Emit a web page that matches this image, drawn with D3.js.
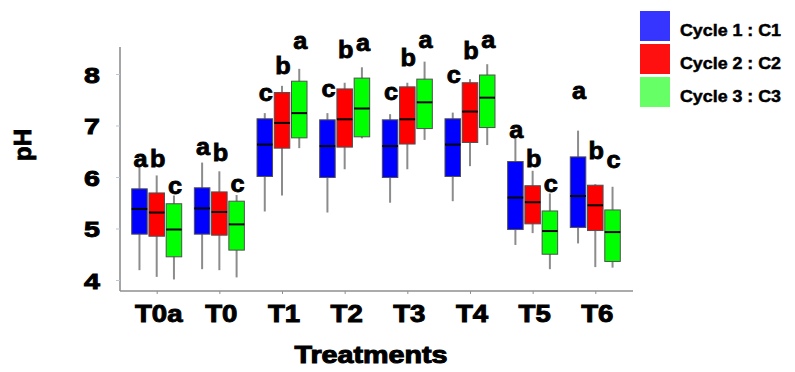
<!DOCTYPE html>
<html>
<head>
<meta charset="utf-8">
<script src="https://cdn.jsdelivr.net/npm/d3@7"></script>
<style>
  html, body { margin: 0; padding: 0; background: #fff; }
  svg { display: block; font-family: "Liberation Sans", Arial, sans-serif; }
</style>
</head>
<body>
<svg id="chart" width="795" height="372"></svg>
<script>
// ---- data ----
const categories = ["T0a", "T0", "T1", "T2", "T3", "T4", "T5", "T6"];
const seriesNames = ["Cycle 1 : C1", "Cycle 2 : C2", "Cycle 3 : C3"];
const yTicks = [4, 5, 6, 7, 8];
// [whisker low, Q1, median, Q3, whisker high]
const c1Stats = [
  [4.19, 4.89, 5.38, 5.77, 6.23],
  [4.21, 4.89, 5.39, 5.79, 6.28],
  [5.33, 6.01, 6.63, 7.13, 7.24],
  [5.31, 5.99, 6.60, 7.11, 7.24],
  [5.50, 5.99, 6.60, 7.11, 7.22],
  [5.53, 6.01, 6.63, 7.13, 7.25],
  [4.68, 4.98, 5.60, 6.30, 6.77],
  [4.71, 5.02, 5.63, 6.39, 6.90]
];
const c2Stats = [
  [4.06, 4.85, 5.31, 5.69, 6.03],
  [4.19, 4.87, 5.32, 5.71, 6.11],
  [5.64, 6.56, 7.05, 7.64, 7.77],
  [6.15, 6.58, 7.12, 7.71, 7.83],
  [6.15, 6.64, 7.12, 7.75, 7.83],
  [6.21, 6.67, 7.27, 7.83, 7.90],
  [4.91, 5.09, 5.51, 5.83, 6.12],
  [4.25, 4.96, 5.45, 5.84, 5.86]
];
const c3Stats = [
  [4.01, 4.45, 4.98, 5.48, 5.64],
  [4.05, 4.58, 5.08, 5.53, 5.65],
  [6.56, 6.76, 7.24, 7.86, 8.10],
  [6.75, 6.78, 7.33, 7.92, 8.13],
  [6.72, 6.94, 7.45, 7.90, 8.24],
  [6.62, 6.96, 7.54, 7.98, 8.19],
  [4.21, 4.50, 4.95, 5.34, 5.68],
  [4.24, 4.36, 4.93, 5.36, 5.81]
];
// significance letters and the pH level of their baseline
const c1Letters = ["a", "a", "c", "c", "c", "c", "a", "a"];
const c2Letters = ["b", "b", "b", "b", "b", "b", "b", "b"];
const c3Letters = ["c", "c", "a", "a", "a", "a", "c", "c"];
const c1LetterY = [6.19, 6.43, 7.48, 7.56, 7.49, 7.82, 6.76, 7.51];
const c2LetterY = [6.19, 6.32, 8.00, 8.31, 8.16, 8.30, 6.20, 6.34];
const c3LetterY = [5.67, 5.70, 8.48, 8.45, 8.50, 8.50, 5.70, 6.18];

// ---- styles ----
const boxColors = ["#0000ff", "#ff0000", "#00ff00"];
const legendColors = ["#3535ff", "#ff1010", "#66ff66"];

const series = [
  { name: seriesNames[0], stats: c1Stats, letters: c1Letters, letterY: c1LetterY },
  { name: seriesNames[1], stats: c2Stats, letters: c2Letters, letterY: c2LetterY },
  { name: seriesNames[2], stats: c3Stats, letters: c3Letters, letterY: c3LetterY }
];

const svg = d3.select("#chart");

// scales
const y = d3.scaleLinear().domain([3.786, 8.524]).range([291, 47]);
const xGroup = d3.scalePoint().domain(categories).range([156.7, 595.3]);
const xSub = d3.scaleBand().domain(d3.range(3)).range([-25, 25]).paddingInner(0.1);
const bw = xSub.bandwidth();

// axes
const yAxis = svg.append("g").attr("transform", "translate(120,0)")
  .call(d3.axisLeft(y).tickValues(yTicks).tickSize(4).tickFormat(""));
yAxis.select(".domain").attr("stroke", "#8f8f8f").attr("stroke-width", 1.6)
  .attr("d", `M0,${y.range()[0]}V${y.range()[1]}`);
yAxis.selectAll(".tick line").attr("stroke", "#b9c6dc").attr("stroke-width", 1);

svg.append("g").attr("class", "ylabels")
  .selectAll("text").data(yTicks).join("text")
  .attr("transform", d => `translate(100,${y(d) + 9}) scale(1.3,1)`)
  .attr("text-anchor", "end")
  .attr("font-size", 22).attr("font-weight", "bold")
  .attr("stroke", "#000").attr("stroke-width", 0.9)
  .text(d => d);

const xAxis = svg.append("g").attr("transform", "translate(0,291)")
  .call(d3.axisBottom(xGroup).tickSize(3).tickFormat(""));
xAxis.select(".domain").attr("stroke", "#8f8f8f").attr("stroke-width", 1.6)
  .attr("d", "M120,0H633");
xAxis.selectAll(".tick line").attr("stroke", "#8f8f8f");

svg.append("g").attr("class", "xlabels")
  .selectAll("text").data(categories).join("text")
  .attr("transform", d => `translate(${xGroup(d) + 2},322) scale(1.2,1)`)
  .attr("text-anchor", "middle")
  .attr("font-size", 23).attr("font-weight", "bold")
  .attr("stroke", "#000").attr("stroke-width", 0.9)
  .text(d => d);

// axis titles
svg.append("text")
  .attr("x", 371).attr("y", 363).attr("text-anchor", "middle")
  .attr("font-size", 23).attr("font-weight", "bold")
  .attr("stroke", "#000").attr("stroke-width", 1)
  .attr("textLength", 153).attr("lengthAdjust", "spacingAndGlyphs")
  .text("Treatments");
svg.append("text")
  .attr("transform", "translate(31,145) rotate(-90)")
  .attr("text-anchor", "middle")
  .attr("font-size", 24).attr("font-weight", "bold")
  .attr("stroke", "#000").attr("stroke-width", 0.9)
  .text("pH");

// boxes
series.forEach((s, si) => {
  const g = svg.append("g").attr("class", "series-" + si);
  const groups = g.selectAll("g").data(categories.map((c, i) => ({ cat: c, st: s.stats[i], letter: s.letters[i], ly: s.letterY[i] })))
    .join("g")
    .attr("transform", d => `translate(${xGroup(d.cat) + xSub(si)},0)`);
  // whisker
  groups.append("line")
    .attr("x1", bw / 2).attr("x2", bw / 2)
    .attr("y1", d => y(d.st[0])).attr("y2", d => y(d.st[4]))
    .attr("stroke", "#8c8c8c").attr("stroke-width", 2);
  // box
  groups.append("rect")
    .attr("x", 0).attr("width", bw)
    .attr("y", d => y(d.st[3])).attr("height", d => y(d.st[1]) - y(d.st[3]))
    .attr("fill", boxColors[si]).attr("stroke", "#505050").attr("stroke-width", 1);
  // median
  groups.append("line")
    .attr("x1", 0).attr("x2", bw)
    .attr("y1", d => y(d.st[2])).attr("y2", d => y(d.st[2]))
    .attr("stroke", "#000").attr("stroke-width", 2);
  // letters
  groups.append("text")
    .attr("transform", d => `translate(${bw / 2 + 1},${y(d.ly)}) scale(1.1,1)`)
    .attr("text-anchor", "middle")
    .attr("font-size", 23).attr("font-weight", "bold")
    .attr("stroke", "#000").attr("stroke-width", 0.8)
    .text(d => d.letter);
});

// legend
const legend = svg.append("g").attr("class", "legend")
  .selectAll("g").data(seriesNames).join("g")
  .attr("transform", (d, i) => `translate(640,${11 + i * 33})`);
legend.append("rect").attr("width", 30).attr("height", 30)
  .attr("fill", (d, i) => legendColors[i]);
legend.append("text").attr("x", 40).attr("y", 25)
  .attr("font-size", 17).attr("font-weight", "bold")
  .attr("stroke", "#000").attr("stroke-width", 0.5)
  .attr("textLength", 101).attr("lengthAdjust", "spacingAndGlyphs")
  .text(d => d);
</script>
</body>
</html>
